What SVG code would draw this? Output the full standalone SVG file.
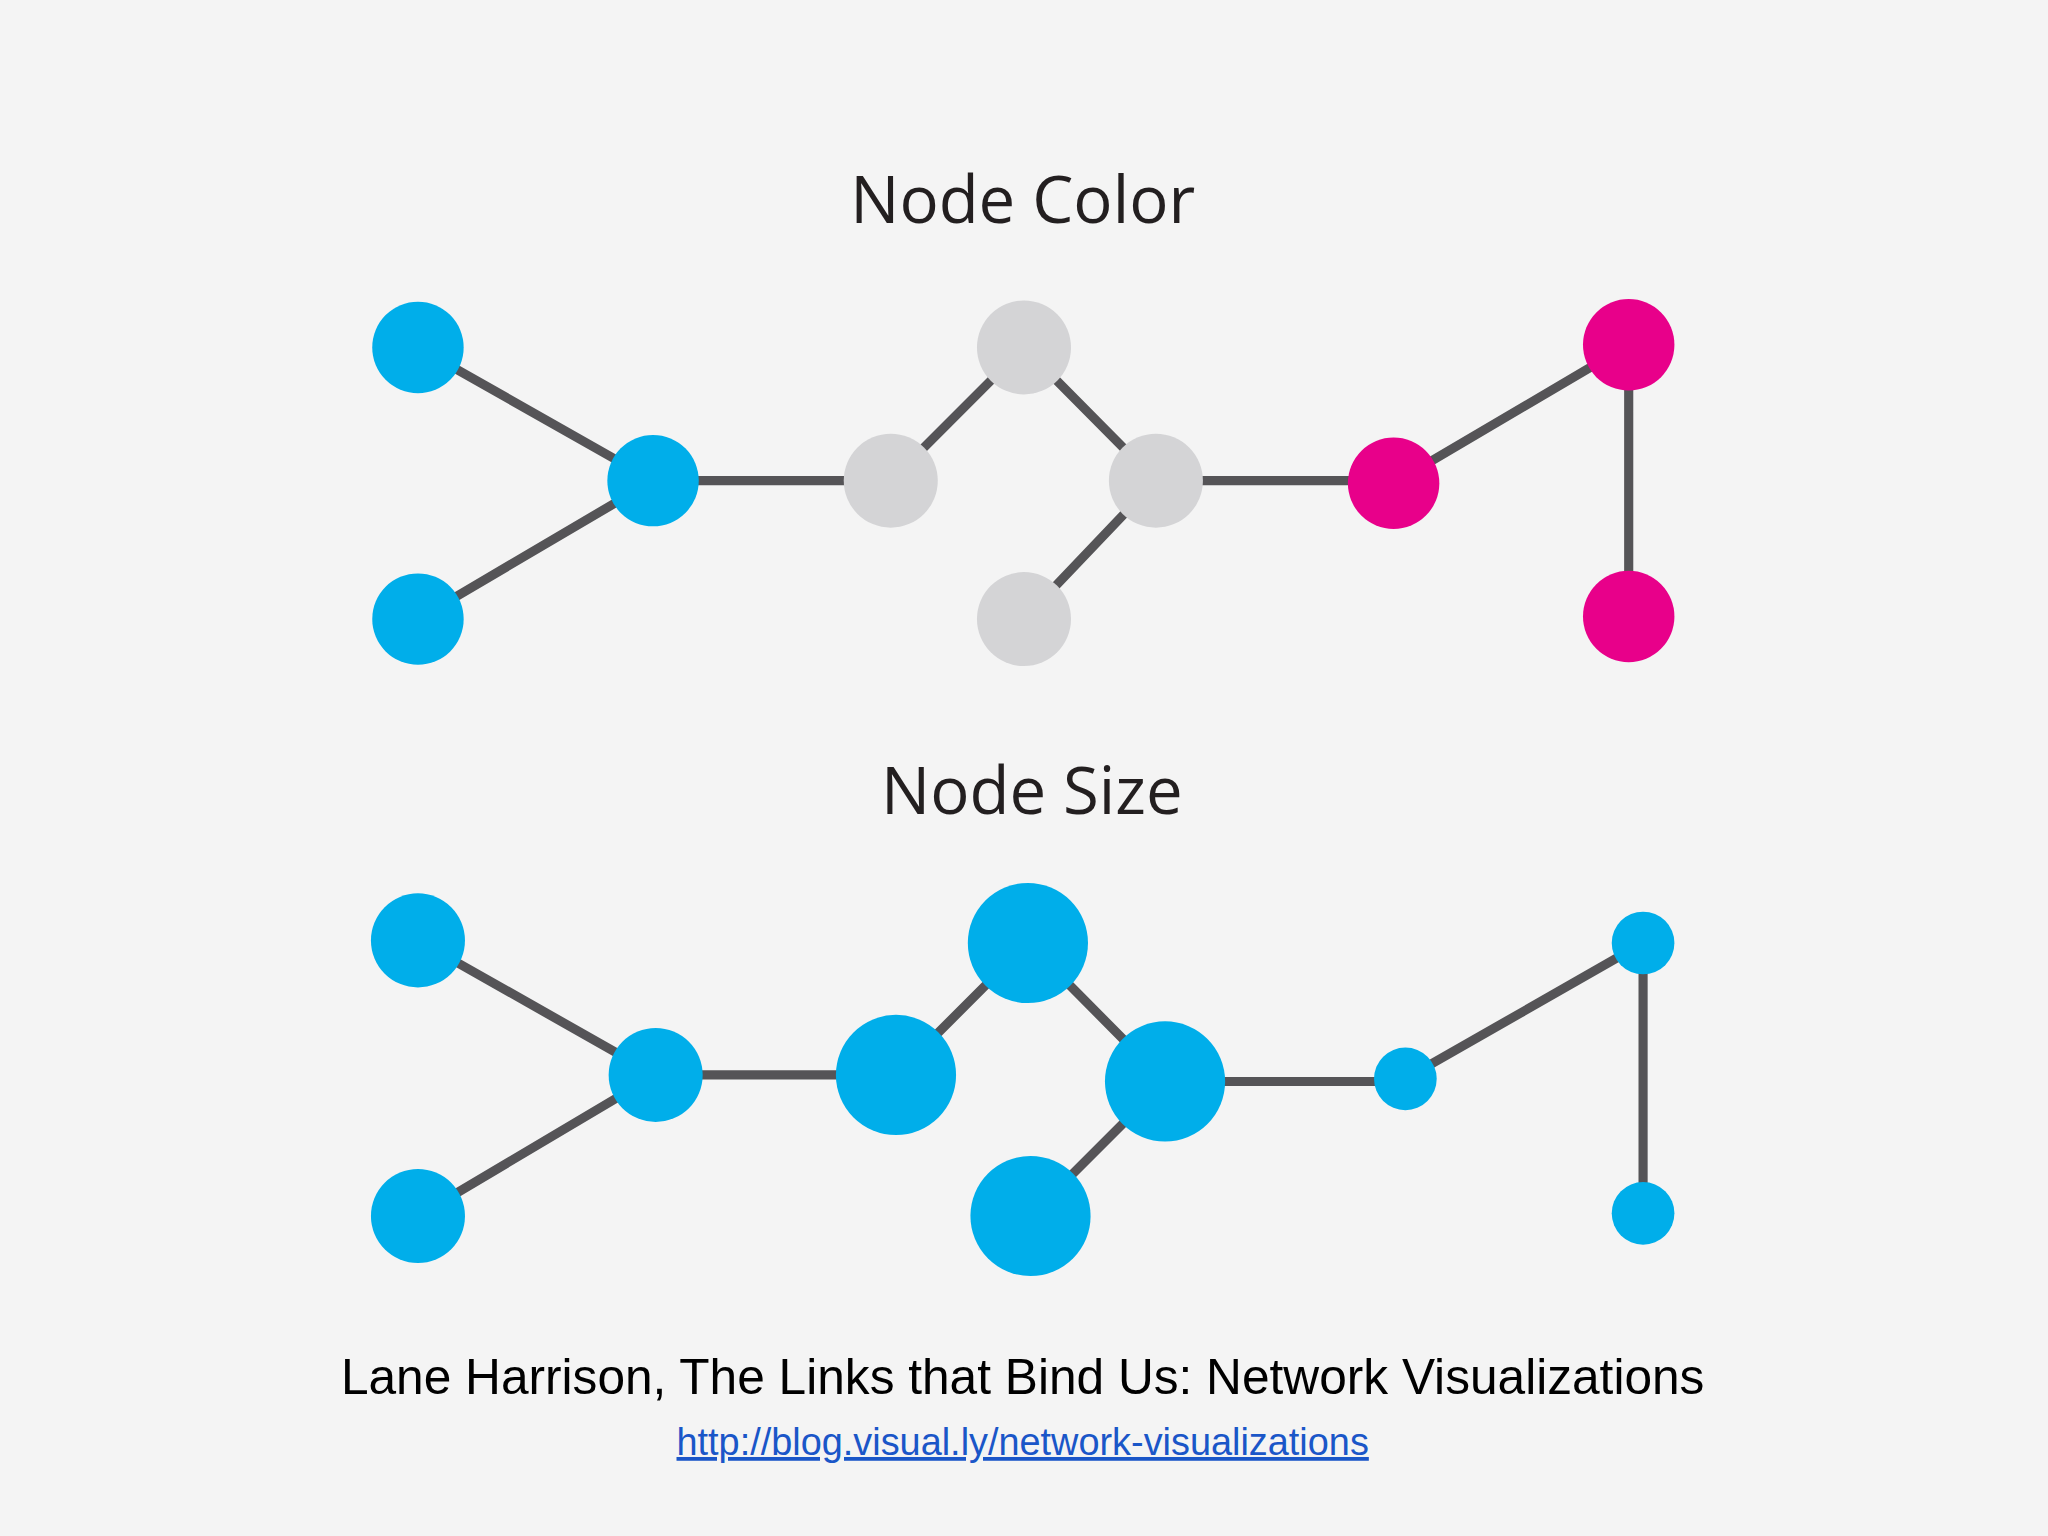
<svg xmlns="http://www.w3.org/2000/svg" width="2048" height="1536" viewBox="0 0 2048 1536">
<style>
.e{stroke:#555457;stroke-width:7;fill:none}
.b{fill:#00aeea}.g{fill:#d4d4d6}.m{fill:#e8008a}
.t{font-family:"Open Sans",sans-serif;font-size:50px;fill:#231f20;text-anchor:middle}
.c{font-family:"Liberation Sans",Arial,sans-serif;text-anchor:middle}
</style>
<rect width="2048" height="1536" fill="#f4f4f4"/>
<g transform="scale(1.3061)">
<text class="t" x="783" y="171">Node Color</text>
<text class="t" x="790" y="623">Node Size</text>
<g id="connectors">
<path class="e" d="M320 266L500 368M320 474L500 368M500 368H682M682 368L784 266M784 266L885 368M885 368L784 474M885 368H1067M1067 370L1247 264M1247 264V472"/>
<path class="e" d="M320 720L502 823M320 931L502 823M502 823H686M686 823L787 722M787 722L892 828M892 828L789 931M892 828H1076M1076 826L1258 722M1258 722V929"/>
</g>
<g id="c1"><circle class="b" cx="320" cy="266" r="35"/></g>
<g id="c2"><circle class="b" cx="320" cy="474" r="35"/></g>
<g id="c3"><circle class="b" cx="500" cy="368" r="35"/></g>
<g id="c4"><circle class="g" cx="682" cy="368" r="36"/></g>
<g id="c5"><circle class="g" cx="784" cy="266" r="36"/></g>
<g id="c6"><circle class="g" cx="885" cy="368" r="36"/></g>
<g id="c7"><circle class="g" cx="784" cy="474" r="36"/></g>
<g id="c8"><circle class="m" cx="1067" cy="370" r="35"/></g>
<g id="c9"><circle class="m" cx="1247" cy="264" r="35"/></g>
<g id="c10"><circle class="m" cx="1247" cy="472" r="35"/></g>
<g id="s1"><circle class="b" cx="320" cy="720" r="36"/></g>
<g id="s2"><circle class="b" cx="320" cy="931" r="36"/></g>
<g id="s3"><circle class="b" cx="502" cy="823" r="36"/></g>
<g id="s4"><circle class="b" cx="686" cy="823" r="46"/></g>
<g id="s5"><circle class="b" cx="787" cy="722" r="46"/></g>
<g id="s6"><circle class="b" cx="892" cy="828" r="46"/></g>
<g id="s7"><circle class="b" cx="789" cy="931" r="46"/></g>
<g id="s8"><circle class="b" cx="1076" cy="826" r="24"/></g>
<g id="s9"><circle class="b" cx="1258" cy="722" r="24"/></g>
<g id="s10"><circle class="b" cx="1258" cy="929" r="24"/></g>
<text class="c" x="783" y="1067" font-size="38" fill="#000">Lane Harrison, The Links that Bind Us: Network Visualizations</text>
<text class="c" x="783" y="1114" font-size="29" fill="#1a56c8" text-decoration="underline">http://blog.visual.ly/network-visualizations</text>
</g>
</svg>
